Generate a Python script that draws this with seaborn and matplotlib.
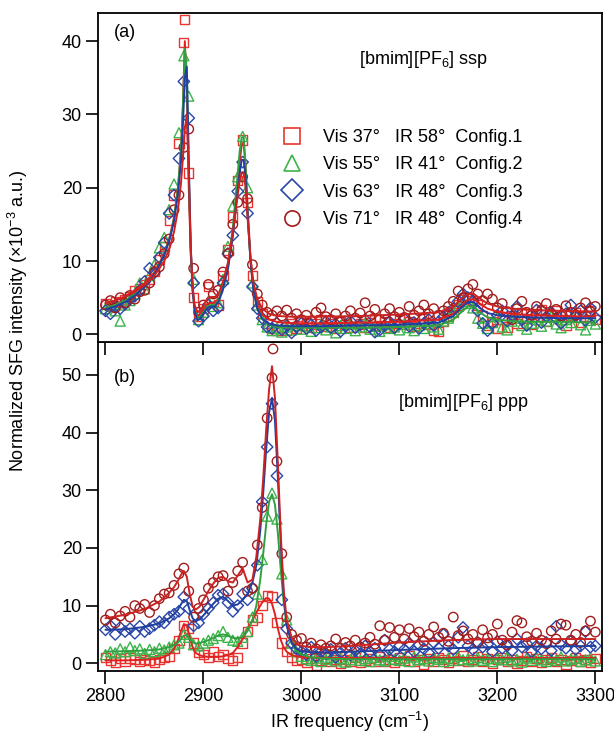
import matplotlib
matplotlib.use("Agg")
import matplotlib.pyplot as plt
import seaborn as sns
import pandas as pd
from matplotlib.lines import Line2D

# ---------------- data ----------------
freq = list(range(2800, 3301, 5))

# panel (a) ssp
ssp_c1 = [4.2, 3.8, 4.5, 4.3, 4.8, 5.2, 6.0, 6.3, 6.8, 7.5,
          8.6, 10.2, 12.0, 15.5, 19.0, 26.0, 39.8, 22.0, 5.0, 2.5,
          3.5, 6.5, 4.5, 4.0, 8.0, 11.5, 16.0, 21.0, 26.5, 18.0,
          8.0, 4.5, 2.8, 1.5, 0.8, 0.5, 1.0, 0.6, 1.5, 0.8,
          1.2, 1.6, 0.9, 1.4, 2.0, 1.1, 1.5, 0.8, 1.8, 1.3,
          1.0, 1.9, 1.4, 0.9, 1.6, 2.1, 1.2, 1.7, 1.0, 1.5,
          2.0, 1.3, 1.8, 1.1, 1.5, 2.2, 1.4, 0.6, 0.4, 1.8,
          2.5, 3.0, 4.0, 4.8, 5.0, 4.6, 4.0, 2.5, 1.2, 1.8,
          0.8, 2.0, 1.0, 2.6, 1.5, 3.0, 2.2, 1.4, 2.8, 3.4,
          1.7, 2.5, 3.2, 2.0, 1.2, 2.6, 3.0, 1.6, 2.4, 3.3,
          2.0]
ssp_c2 = [3.5, 3.9, 3.2, 1.8, 4.0, 4.6, 5.5, 7.0, 6.2, 8.0,
          9.5, 11.8, 13.2, 17.0, 20.5, 27.5, 38.0, 32.5, 7.5, 2.0,
          3.0, 4.5, 3.8, 4.3, 7.5, 12.0, 17.5, 21.5, 27.0, 20.0,
          7.0, 4.0, 2.0, 1.0, 0.5, 0.8, 0.3, 1.0, 0.6, 1.2,
          0.7, 1.1, 0.4, 0.9, 1.3, 0.6, 1.0, 0.2, 1.2, 0.8,
          1.4, 0.5, 1.0, 1.5, 0.7, 1.1, 0.4, 1.3, 0.8, 1.0,
          0.6, 1.4, 0.9, 0.5, 1.2, 0.8, 1.5, 1.0, 0.7, 1.8,
          2.2, 3.0, 3.8, 4.5, 4.2, 3.6, 2.2, 1.5, 0.8, 1.6,
          2.4, 1.0, 0.6, 1.8, 2.2, 1.2, 0.7, 1.5, 2.0, 1.1,
          1.8, 2.5, 1.4, 0.9, 2.0, 1.6, 2.8, 1.3, 0.6, 1.9,
          1.4]
ssp_c3 = [3.2, 2.8, 3.8, 3.5, 4.1, 4.8, 5.2, 6.0, 7.2, 9.0,
          8.4, 10.5, 12.5, 16.5, 19.0, 24.0, 34.5, 29.5, 7.0, 1.8,
          2.5, 4.0, 3.2, 3.6, 7.0, 11.0, 13.5, 19.5, 23.5, 16.5,
          6.5, 3.5, 2.2, 1.0, 0.8, 1.5, 0.6, 1.2, 0.2, 1.0,
          1.5, 0.8, 1.3, 0.5, 1.0, 1.7, 0.9, 1.4, 0.4, 1.1,
          1.8, 0.9, 1.3, 2.0, 1.0, 0.3, 0.6, 1.2, 1.7, 0.9,
          1.4, 2.1, 1.1, 1.6, 0.8, 1.5, 2.0, 1.2, 1.7, 2.4,
          3.0, 3.5, 4.5, 5.5, 5.0, 4.5, 3.2, 1.5, 0.5, 1.5,
          2.6, 3.2, 1.8, 2.5, 3.8, 2.0, 1.2, 2.7, 3.3, 1.6,
          2.4, 3.0, 2.2, 1.5, 2.8, 4.0, 2.5, 3.2, 1.9, 3.6,
          2.3]
ssp_c4 = [4.0, 4.6, 3.6, 5.0, 4.3, 5.3, 4.8, 5.8, 6.0, 7.0,
          8.5, 9.2, 11.0, 13.0, 17.0, 19.0, 25.5, 28.0, 9.0, 3.0,
          4.0, 6.8, 5.5, 6.0, 8.5, 11.0, 15.0, 18.0, 21.5, 18.5,
          9.5, 5.5, 4.0, 3.0, 2.6, 3.2, 2.5, 3.3, 2.2, 2.8,
          2.0, 2.6, 1.8, 3.0, 3.6, 2.4, 2.0, 2.8, 1.7, 2.5,
          3.2, 2.2, 2.9, 4.3, 2.5, 3.4, 2.0, 2.8, 3.5, 2.4,
          3.0, 2.3, 3.8, 2.6, 3.2, 4.0, 2.8, 3.5, 2.6, 3.2,
          3.8, 4.5, 5.9, 5.0, 6.2, 6.8, 5.5, 4.6, 5.5, 4.8,
          3.6, 4.2, 3.1, 2.0, 3.5, 4.5, 3.0, 2.6, 3.8, 3.2,
          4.2, 2.8, 3.4, 2.5, 3.9, 3.0, 2.6, 3.6, 4.3, 3.1,
          3.8]

# panel (b) ppp
ppp_c1 = [1.0, 0.5, 0.2, 0.8, 0.4, 0.9, 0.6, 0.3, 0.7, 0.5,
          0.2, 0.6, 1.0, 1.2, 2.5, 4.0, 6.5, 6.0, 3.5, 1.8,
          1.5, 1.0, 2.0, 1.2, 1.5, 0.8, 0.5, 1.0, 3.5, 5.5,
          7.5, 8.0, 10.0, 11.8, 11.5, 7.0, 3.5, 2.0, 1.0, 0.5,
          0.6, 0.2, 0.8, -0.3, 0.5, 0.9, 0.3, 0.6, -0.1, 0.7,
          0.4, 1.0, 0.2, 0.5, 0.8, 0.3, 1.2, 0.4, 0.7, 0.1,
          0.9, 0.5, 1.3, 0.3, 0.6, -0.2, 0.8, 0.4, 1.0, 0.6,
          0.2, 0.9, 0.5, 1.4, 0.3, 0.7, 1.1, 0.4, 0.8, 0.0,
          0.6, 1.0, 0.3, 0.7, -0.1, 0.5, 1.2, 0.4, 0.8, 0.2,
          0.6, 1.0, 0.3, 0.7, -0.2, 0.5, 0.9, 0.4, 0.7, 0.2,
          0.8]
ppp_c2 = [1.5, 2.0, 1.8, 2.5, 2.0, 2.8, 2.2, 2.5, 1.7, 2.4,
          2.0, 2.6, 2.3, 2.8, 3.2, 3.5, 5.0, 4.5, 3.2, 3.0,
          3.5, 4.0, 4.3, 4.8, 5.5, 4.5, 4.0, 3.8, 4.5, 5.5,
          8.0, 12.0, 18.0, 25.5, 29.5, 25.0, 15.5, 7.5, 3.5, 2.0,
          1.2, 0.8, 0.5, 0.9, 0.3, 0.7, 1.0, 0.4, 0.8, 0.2,
          0.6, 1.1, 0.5, 0.8, 0.3, 1.0, 0.6, 0.4, 1.2, 0.7,
          0.5, 0.9, 0.3, 1.1, 0.6, 0.8, 0.4, 1.0, 0.7, 0.3,
          0.9, 0.5, 1.2, 0.6, 0.8, 0.4, 1.0, 0.5, 0.8, 0.3,
          0.9, 0.6, 1.1, 0.4, 0.7, 0.2, 0.9, 0.5, 1.0, 0.6,
          0.3, 0.8, 0.5, 1.1, 0.4, 0.7, 0.9, 0.3, 0.6, 1.0,
          0.4]
ppp_c3 = [5.8, 6.5, 5.0, 6.2, 5.5, 6.0, 5.2, 6.4, 5.5, 6.0,
          6.6, 7.2, 7.0, 8.0, 8.5, 9.0, 11.5, 9.5, 6.5, 7.0,
          8.5, 9.5, 10.5, 11.8, 12.0, 10.5, 9.0, 10.0, 12.0, 11.0,
          13.0, 17.0, 28.0, 37.5, 45.0, 32.5, 11.0, 6.0, 3.5, 2.5,
          2.0, 1.5, 2.8, 1.2, 2.0, 1.6, 2.4, 1.0, 1.8, 2.6,
          1.4, 2.2, 1.6, 3.0, 2.0, 2.6, 1.5, 4.0, 2.4, 2.0,
          3.0, 2.4, 3.5, 2.0, 3.2, 2.5, 1.8, 3.6, 2.6, 5.0,
          3.0, 2.4, 4.5, 6.2, 3.0, 2.4, 3.6, 2.8, 3.3, 2.0,
          3.8, 2.6, 3.0, 2.2, 4.2, 2.8, 3.4, 2.0, 3.0, 2.5,
          3.6, 2.2, 6.4, 3.2, 2.6, 3.8, 2.4, 3.0, 5.5, 2.8,
          3.0]
ppp_c4 = [7.5, 8.5, 7.0, 8.2, 9.0, 8.0, 10.0, 9.5, 10.2, 8.8,
          10.0, 11.2, 12.0, 12.2, 13.5, 15.5, 16.5, 12.5, 8.0, 9.5,
          11.0, 13.0, 14.0, 15.0, 15.2, 12.5, 14.0, 16.0, 17.5, 12.5,
          13.0, 20.5, 27.0, 42.5, 49.5, 35.0, 19.0, 8.0, 5.0, 4.0,
          4.3, 2.8, 3.5, 2.5, 3.2, 2.6, 3.0, 4.2, 2.6, 3.6,
          3.0, 4.0, 2.8, 3.5, 4.5, 3.3, 6.5, 4.0, 6.2, 4.5,
          5.8, 4.2, 6.0, 4.6, 5.4, 3.8, 5.0, 6.3, 4.5, 5.2,
          3.8, 8.0, 4.8, 5.6, 4.2, 5.0, 3.6, 5.8, 4.4, 5.0,
          6.8, 4.0, 3.2, 5.4, 7.4, 7.0, 4.6, 3.8, 5.2, 4.0,
          3.4, 5.6, 4.2, 6.8, 6.6, 4.0, 5.0, 3.6, 5.6, 7.3,
          5.4]

# isolated outlying points
ssp_c1_extra_x, ssp_c1_extra_y = [2881], [43.0]
ppp_c4_extra_x, ppp_c4_extra_y = [2971], [54.5]

# fitted curves
fit_x_a = [2800, 2810, 2820, 2830, 2840, 2850, 2860, 2866, 2870, 2874, 2877, 2879,
           2881, 2883, 2885, 2887, 2889, 2891, 2894, 2897, 2900, 2904, 2908, 2912,
           2916, 2920, 2925, 2930, 2934, 2937, 2939, 2941, 2943, 2945, 2948, 2951,
           2955, 2960, 2967, 2975, 2990, 3020, 3060, 3100, 3140, 3155, 3163, 3170,
           3176, 3182, 3190, 3200, 3215, 3235, 3265, 3300]
fit_a_c1 = [4.2, 4.6, 5.2, 6.0, 7.0, 8.5, 11.0, 13.5, 16.0, 20.0, 25.0, 31.0,
            40.0, 33.0, 20.0, 11.0, 6.0, 3.6, 2.5, 2.8, 3.4, 4.2, 4.3, 4.3,
            5.0, 6.5, 9.0, 13.5, 19.0, 23.5, 25.8, 26.2, 23.0, 17.5, 10.5, 6.5,
            4.0, 2.7, 2.0, 1.7, 1.5, 1.5, 1.6, 1.7, 2.0, 2.8, 3.8, 4.7,
            4.8, 4.2, 3.5, 3.1, 2.8, 2.6, 2.5, 2.4]
fit_a_c2 = [3.6, 4.0, 4.6, 5.5, 6.6, 8.2, 10.8, 13.3, 15.8, 19.8, 25.0, 31.0,
            39.0, 36.0, 22.0, 11.5, 6.0, 3.4, 2.2, 2.5, 3.0, 3.8, 4.0, 4.0,
            4.8, 6.5, 9.5, 14.5, 20.5, 25.0, 26.8, 27.0, 23.0, 17.0, 10.0, 6.0,
            3.5, 2.1, 1.3, 1.0, 0.9, 0.9, 0.9, 1.0, 1.2, 2.0, 3.0, 3.8,
            3.8, 3.0, 2.3, 2.0, 1.8, 1.7, 1.7, 1.6]
fit_a_c3 = [3.4, 3.8, 4.4, 5.3, 6.5, 8.2, 10.8, 13.2, 15.5, 19.2, 23.5, 28.5,
            35.0, 36.5, 24.0, 12.0, 6.0, 3.2, 1.9, 2.2, 2.8, 3.6, 3.8, 3.8,
            4.6, 6.2, 9.0, 13.5, 18.5, 22.0, 23.8, 23.8, 21.5, 16.5, 10.0, 6.0,
            3.5, 2.1, 1.4, 1.2, 1.1, 1.1, 1.2, 1.3, 1.6, 2.5, 3.6, 4.4,
            4.4, 3.6, 2.9, 2.6, 2.4, 2.3, 2.2, 2.2]
fit_a_c4 = [4.3, 4.6, 5.1, 5.8, 6.7, 8.0, 10.0, 12.0, 14.0, 17.0, 20.5, 24.0,
            28.0, 30.0, 22.0, 12.0, 6.5, 4.0, 3.0, 3.3, 4.0, 4.9, 5.1, 5.1,
            5.7, 7.2, 9.8, 14.0, 18.0, 21.0, 22.0, 22.0, 20.0, 16.0, 10.5, 7.0,
            4.8, 3.5, 2.8, 2.5, 2.4, 2.4, 2.5, 2.7, 3.0, 3.8, 4.8, 5.5,
            5.5, 4.9, 4.2, 3.8, 3.5, 3.3, 3.2, 3.1]

fit_x_b = [2800, 2820, 2840, 2855, 2865, 2870, 2874, 2877, 2880, 2883, 2886, 2889,
           2892, 2896, 2900, 2905, 2910, 2915, 2920, 2925, 2930, 2935, 2940, 2945,
           2950, 2954, 2958, 2961, 2964, 2967, 2970, 2973, 2976, 2979, 2982, 2985,
           2990, 2995, 3000, 3010, 3025, 3050, 3100, 3150, 3200, 3250, 3300]
fit_b_c1 = [0.5, 0.5, 0.6, 0.8, 1.5, 2.5, 4.0, 5.5, 6.8, 6.5, 4.5, 2.8,
            1.8, 1.4, 1.2, 1.1, 1.1, 1.1, 1.2, 1.4, 1.8, 2.8, 4.2, 5.8,
            7.5, 8.8, 10.0, 10.8, 11.3, 11.2, 10.3, 8.5, 6.0, 4.0, 2.7, 2.0,
            1.4, 1.2, 1.1, 1.0, 0.9, 0.9, 0.9, 0.9, 0.9, 0.9, 0.9]
fit_b_c2 = [2.0, 2.1, 2.2, 2.4, 2.8, 3.1, 3.6, 4.2, 4.8, 4.9, 4.2, 3.6,
            3.4, 3.5, 3.7, 4.0, 4.4, 4.8, 5.0, 4.8, 4.4, 4.3, 4.6, 5.6,
            7.5, 10.0, 14.5, 19.0, 24.0, 28.0, 29.3, 27.5, 22.5, 16.0, 10.5, 6.8,
            3.5, 2.1, 1.5, 1.0, 0.8, 0.7, 0.7, 0.7, 0.7, 0.7, 0.7]
fit_b_c3 = [5.8, 5.9, 6.3, 6.9, 7.8, 8.5, 9.3, 10.2, 11.0, 10.8, 9.2, 7.8,
            7.3, 7.6, 8.3, 9.3, 10.3, 11.2, 11.5, 10.8, 10.0, 10.2, 11.0, 12.0,
            14.0, 17.0, 23.0, 29.5, 37.0, 43.5, 46.0, 42.0, 32.0, 20.5, 11.5, 6.5,
            3.5, 2.5, 2.1, 1.9, 1.9, 2.0, 2.3, 2.6, 2.8, 2.9, 3.0]
fit_b_c4 = [7.8, 8.4, 9.4, 10.7, 12.2, 13.2, 14.3, 15.3, 16.0, 15.0, 12.0, 9.8,
            9.3, 9.8, 11.0, 12.5, 13.8, 14.8, 15.0, 14.2, 14.0, 15.2, 16.5, 14.0,
            14.5, 18.5, 25.0, 32.0, 40.5, 47.5, 51.5, 46.0, 34.5, 22.0, 12.5, 7.5,
            4.5, 3.4, 3.0, 2.8, 2.8, 3.0, 3.6, 4.0, 4.2, 4.2, 4.2]

legend_labels = ["Vis 37°   IR 58°  Config.1",
                 "Vis 55°   IR 41°  Config.2",
                 "Vis 63°   IR 48°  Config.3",
                 "Vis 71°   IR 48°  Config.4"]
y_ticks_a = [0, 10, 20, 30, 40]
y_ticks_b = [0, 10, 20, 30, 40, 50]
x_ticks = [2800, 2900, 3000, 3100, 3200, 3300]

# ---------------- style ----------------
sns.set_style("ticks")
plt.rcParams["font.family"] = ["Liberation Sans", "DejaVu Sans"]
plt.rcParams["mathtext.fontset"] = "custom"
plt.rcParams["mathtext.rm"] = "Liberation Sans"
plt.rcParams["mathtext.it"] = "Liberation Sans:italic"
plt.rcParams["mathtext.bf"] = "Liberation Sans:bold"
for key in ["text.color", "axes.labelcolor", "xtick.color", "ytick.color",
            "axes.edgecolor"]:
    plt.rcParams[key] = "black"

colors = ["#e8352f", "#3db34a", "#2a46a8", "#a11c1c"]
fit_colors = ["#e02020", "#30a040", "#2040a0", "#cc2222"]
markers = ["s", "^", "D", "o"]
msizes = [44, 52, 34, 46]
FS = 13

fig = plt.figure(figsize=(6.14, 7.35), dpi=100)
ax_a = fig.add_axes([0.1603, 0.5347, 0.8195, 0.4472])
ax_b = fig.add_axes([0.1603, 0.0871, 0.8195, 0.4476])
ax_a.set_zorder(3)
ax_b.patch.set_alpha(0)


def draw_panel(ax, series, fit_x, fits):
    for ys, c, m, s in zip(series, colors, markers, msizes):
        sns.scatterplot(x=freq, y=ys, ax=ax, marker=m, s=s, color=c,
                        facecolors="none", edgecolor=c, linewidth=1.0,
                        legend=False, zorder=2)
    for ys, c in zip(fits, fit_colors):
        sns.lineplot(x=fit_x, y=ys, ax=ax, color=c, linewidth=1.4,
                     legend=False, zorder=3)


draw_panel(ax_a, [ssp_c1, ssp_c2, ssp_c3, ssp_c4], fit_x_a,
           [fit_a_c1, fit_a_c2, fit_a_c3, fit_a_c4])
sns.scatterplot(x=ssp_c1_extra_x, y=ssp_c1_extra_y, ax=ax_a, marker="s", s=msizes[0],
                color=colors[0], facecolors="none", edgecolor=colors[0],
                linewidth=1.0, legend=False)
draw_panel(ax_b, [ppp_c1, ppp_c2, ppp_c3, ppp_c4], fit_x_b,
           [fit_b_c1, fit_b_c2, fit_b_c3, fit_b_c4])
sns.scatterplot(x=ppp_c4_extra_x, y=ppp_c4_extra_y, ax=ax_b, marker="o", s=msizes[3],
                color=colors[3], facecolors="none", edgecolor=colors[3],
                linewidth=1.0, legend=False)

for ax in (ax_a, ax_b):
    ax.set_xlim(2792.8, 3306.4)
    ax.set_xticks(x_ticks)
    ax.set_xlabel("")
    ax.set_ylabel("")
    for sp in ax.spines.values():
        sp.set_visible(True)
        sp.set_linewidth(1.3)
        sp.set_color("black")
    ax.tick_params(direction="out", length=9, width=1.2, labelsize=FS,
                   color="black", labelcolor="black", pad=3)

ax_a.set_ylim(-1.05, 43.8)
ax_a.set_yticks(y_ticks_a)
ax_a.tick_params(axis="x", labelbottom=False)
ax_b.set_ylim(-1.34, 55.7)
ax_b.set_yticks(y_ticks_b)
ax_b.set_xticklabels([str(v) for v in x_ticks])

ax_a.text(0.031, 0.943, "(a)", transform=ax_a.transAxes, fontsize=FS, va="center", ha="left")
ax_a.text(0.518, 0.858, r"[bmim][PF$_\mathregular{6}$] ssp", transform=ax_a.transAxes,
          fontsize=FS, va="center", ha="left")
ax_b.text(0.031, 0.891, "(b)", transform=ax_b.transAxes, fontsize=FS, va="center", ha="left")
ax_b.text(0.595, 0.815, r"[bmim][PF$_\mathregular{6}$] ppp", transform=ax_b.transAxes,
          fontsize=FS, va="center", ha="left")

handles = [Line2D([], [], ls="none", marker=m, markersize=11, mfc="none", mec=c, mew=1.2)
           for m, c in zip(markers, colors)]
ax_a.legend(handles, legend_labels, loc="upper left", bbox_to_anchor=(0.367, 0.648),
            frameon=False, fontsize=FS, handlelength=1.0, handletextpad=1.2,
            labelspacing=0.57, borderaxespad=0, borderpad=0)

fig.text(0.030, 0.563, r"Normalized SFG intensity (×10$^{\mathregular{-3}}$ a.u.)",
         rotation=90, fontsize=FS, va="center", ha="center")
fig.text(0.570, 0.018, r"IR frequency (cm$^{\mathregular{-1}}$)", fontsize=FS,
         va="center", ha="center")

fig.savefig("out.png", dpi=100)
